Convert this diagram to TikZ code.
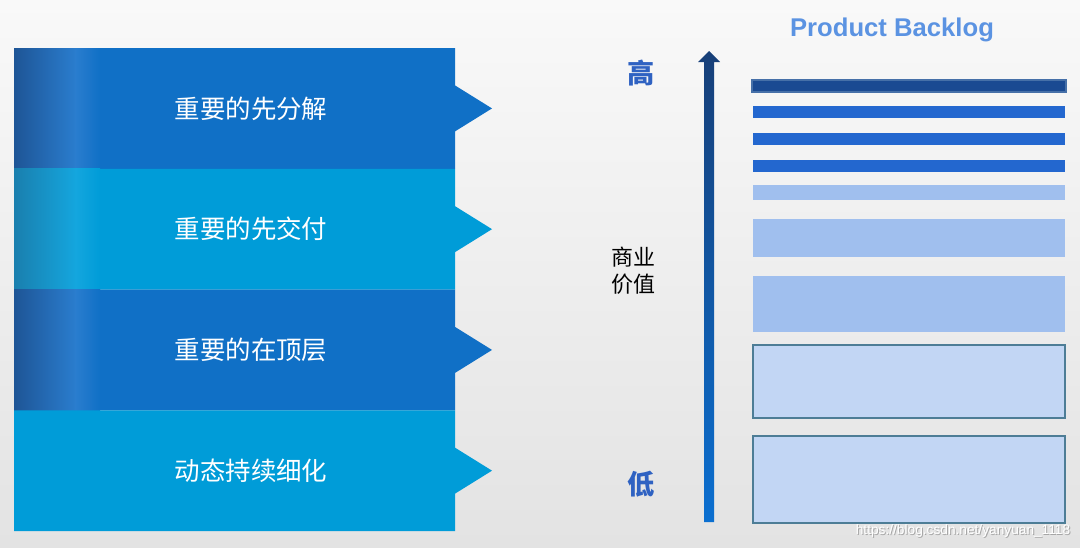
\documentclass[tikz,border=0pt]{standalone}
\usepackage{fontspec}
\setmainfont{Liberation Sans}
\newfontfamily\cjk{Noto Sans CJK SC}

\definecolor{bgtop}{HTML}{F9F9F9}
\definecolor{bgbot}{HTML}{E3E3E3}
\definecolor{banddark}{HTML}{1070C6}
\definecolor{banddarkE}{HTML}{1E5596}
\definecolor{banddarkM}{HTML}{2A7DCE}
\definecolor{bandlight}{HTML}{009CD8}
\definecolor{bandlightE}{HTML}{1A7FAE}
\definecolor{bandlightM}{HTML}{14A6DE}
\definecolor{arrowtop}{HTML}{173F78}
\definecolor{arrowbot}{HTML}{0B6FD0}
\definecolor{levelblue}{HTML}{2F62C2}
\definecolor{titleblue}{HTML}{5B93E2}
\definecolor{bartop}{HTML}{1A4A92}
\definecolor{bartopedge}{HTML}{4670A8}
\definecolor{barmid}{HTML}{2367CF}
\definecolor{barlight}{HTML}{A0BFEE}
\definecolor{boxfill}{HTML}{C2D6F4}
\definecolor{boxedge}{HTML}{4D7D96}

\tikzset{
  bandtext/.style={text=white, font=\cjk\fontsize{14.5}{17}\selectfont},
  leveltext/.style={text=levelblue, font=\cjk\bfseries\fontsize{15.5}{18}\selectfont},
  valtext/.style={text=black, align=center, inner sep=0pt, font=\cjk\fontsize{12.5}{15.3}\selectfont},
  palebox/.style={fill=boxfill, draw=boxedge, line width=0.4mm}
}

\begin{document}
\begin{tikzpicture}[x=0.2mm, y=-0.2mm]
	% Background
	\shade[top color=bgtop, bottom color=bgbot] (0,0) rectangle (1080,547);
	\useasboundingbox (0,0) rectangle (1080,547);
	
	% Bands with arrow notches
	\foreach \i/\txt/\col in {1/重要的先分解/banddark, 2/重要的先交付/bandlight,
		3/重要的在顶层/banddark, 4/动态持续细化/bandlight} {
		\pgfmathsetmacro{\ytop}{48 + (\i-1)*120.75}
		\pgfmathsetmacro{\ybot}{\ytop + 120.75}
		\pgfmathsetmacro{\ymid}{\ytop + 60.4}
		\fill[\col] (14,\ytop) -- (455,\ytop) -- (455,\ymid-23) -- (492,\ymid)
		-- (455,\ymid+23) -- (455,\ybot) -- (14,\ybot) -- cycle;
		% shaded left edge
		\ifnum\i<4
		\shade[left color=\col E, right color=\col M] (14,\ytop) rectangle (76,\ybot);
		\shade[left color=\col M, right color=\col] (75.5,\ytop) rectangle (100,\ybot);
		\fi
		\node[bandtext] (band\i) at (251,\ymid) {\txt};
	}
	
	% Value axis
	\shade[top color=arrowtop, bottom color=arrowbot]
	(704,522) -- (704,62) -- (698,62) -- (709,51) -- (720,62) -- (714,62) -- (714,522) -- cycle;
	\node[leveltext] (hi) at (641,73) {高};
	\node[leveltext] (lo) at (641,484) {低};
	\node[valtext] (val) at (633,271) {商业\\价值};
	
	% Product backlog
	\node[text=titleblue, font=\bfseries\fontsize{14.6}{17}\selectfont] (title) at (892,30) {Product Backlog};
	\draw[fill=bartop, draw=bartopedge, line width=0.3mm] (752,80) rectangle (1066,92);
	\foreach \y in {106,133,160}
		\fill[barmid] (753,\y) rectangle (1065,\y+12);
	\fill[barlight] (753,185) rectangle (1065,200);
	\fill[barlight] (753,219) rectangle (1065,257);
	\fill[barlight] (753,276) rectangle (1065,332);
	\draw[palebox] (753,345) rectangle (1065,418);
	\draw[palebox] (753,436) rectangle (1065,523);
	
	% Watermark
	\node[text=gray!70, font=\fontsize{7.8}{9}\selectfont] (markshadow) at (964,532) {https://blog.csdn.net/yanyuan\_1118};
	\node[text=white, font=\fontsize{7.8}{9}\selectfont] (mark) at (963,531) {https://blog.csdn.net/yanyuan\_1118};
	
\end{tikzpicture}
\end{document}
